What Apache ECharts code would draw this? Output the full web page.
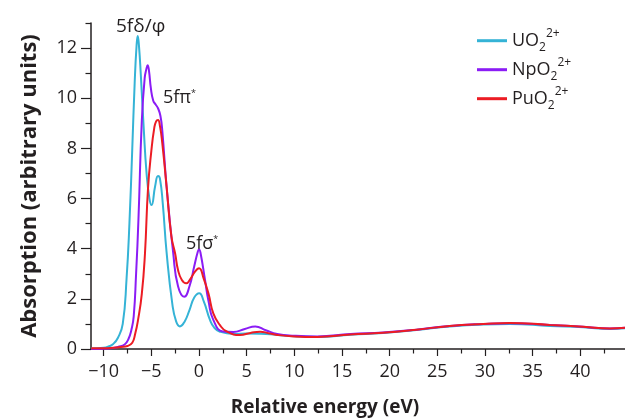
<!DOCTYPE html>
<html>
<head>
<meta charset="utf-8">
<script src="https://cdn.jsdelivr.net/npm/echarts@6/dist/echarts.min.js"></script>
<style>html,body{margin:0;padding:0;background:#fff}#c{width:625px;height:420px}</style>
</head>
<body>
<div id="c"></div>
<script>
// ---- data ----
const seriesNames = ['UO2', 'NpO2', 'PuO2'];
const uX = [-11.3,-10,-9.5,-9,-8.5,-8,-7.6,-7.3,-7,-6.75,-6.55,-6.43,-6.3,-6.1,-5.8,-5.5,-5.2,-4.98,-4.6,-4.3,-4.1,-3.8,-3.4,-2.8,-2.4,-2,-1.5,-1,-0.5,0.02,0.5,1.15,1.6,2.2,3.6,5,6.5,8.2,10,12.4,15.9,19.3,22.8,26.3,29.8,32.6,36.8,40.3,43.1,45];
const uY = [0.02,0.05,0.1,0.2,0.45,1.0,2.8,5.0,8.0,10.6,12.1,12.48,12.1,10.9,8.8,7.0,6.0,5.74,6.5,6.9,6.8,5.8,3.85,1.8,1.1,0.9,1.1,1.55,2.05,2.22,1.9,1.16,0.85,0.69,0.6,0.62,0.61,0.56,0.51,0.48,0.57,0.64,0.76,0.9,0.98,1.0,0.92,0.87,0.8,0.84];
const npX = [-11.3,-10,-9,-8.5,-7.8,-7.4,-7.1,-6.85,-6.6,-6.35,-6,-5.7,-5.5,-5.39,-5.25,-5.05,-4.8,-4.55,-4.3,-4.05,-3.85,-3.4,-2.7,-2.2,-1.55,-1,-0.5,-0.15,0,0.15,0.63,1,1.5,2.5,3.6,4.8,5.9,7,8.2,10,12.4,15.9,19.3,22.8,26.3,29.8,32.6,36.8,40.3,43.1,45];
const npY = [0,0.01,0.04,0.08,0.18,0.4,0.75,1.3,3.0,5.2,9.1,10.8,11.2,11.32,11.1,10.4,9.9,9.75,9.6,9.3,8.7,6.47,3.8,2.5,2.08,2.5,3.3,3.85,3.97,3.85,2.75,1.9,1.16,0.7,0.68,0.8,0.9,0.75,0.6,0.53,0.5,0.6,0.66,0.77,0.92,1.0,1.03,0.96,0.89,0.82,0.86];
const puX = [-11.3,-10,-9,-8.2,-7.5,-7,-6.7,-6.4,-6,-5.67,-5.35,-5,-4.7,-4.5,-4.3,-4.1,-3.85,-3.4,-2.9,-2.5,-2.2,-1.8,-1.35,-0.9,-0.4,0,0.5,1,1.5,2.2,2.9,4.3,5.4,6.4,7.3,8.2,10,12.4,15.9,19.3,22.8,26.3,29.8,32.6,36.8,40.3,43.1,45];
const puY = [0.03,0.03,0.05,0.08,0.12,0.25,0.6,1.15,2.2,3.8,6.4,7.9,8.8,9.08,9.13,8.9,8.2,6.47,4.5,3.8,3.15,2.75,2.62,2.8,3.1,3.22,2.8,2.2,1.42,0.95,0.7,0.56,0.64,0.69,0.63,0.56,0.5,0.48,0.58,0.65,0.77,0.92,1.0,1.04,0.96,0.89,0.82,0.86];
const xTicks = {min: -10, max: 45, step: 5};
const yTicks = {min: 0, max: 12, step: 2};
const annotations = ['5fδ/φ', '5fπ{s|*}', '5fσ{s|*}'];

// ---- layout ----
const W = 625, H = 420;
const xMin = -11.33, xMax = 45, yMax = 13;
const gL = 91, gR = -3, gT = 23, gB = 71;
const pxX = (W - gL - gR) / (xMax - xMin);
const pxY = (H - gT - gB) / yMax;
const leftB = gL + (xTicks.min - xMin) * pxX;
const topC = H - gB - 14 * pxY;
const ink = '#231f20';
const font = 'Open Sans';
const colors = ['#35b3d6', '#8b1cf5', '#ec1c24'];

const zip = (a, b) => a.map((v, i) => [v, b[i]]);
const minus = v => String(v).replace('-', '\u2212');

const chart = echarts.init(document.getElementById('c'), null, {renderer: 'canvas'});
const labelRich = {
  m: {fontSize: 18, lineHeight: 26, fontFamily: font, color: ink},
  sb: {fontSize: 12, lineHeight: 10, verticalAlign: 'bottom', fontFamily: font, color: ink},
  sp: {fontSize: 12, lineHeight: 22, verticalAlign: 'top', fontFamily: font, color: ink}
};
const legendLabel = n => '{m|' + n.slice(0, -1) + '}{sb|2}{sp|2+}';
const supRich = {s: {fontSize: 9, verticalAlign: 'top', lineHeight: 18, fontFamily: font, fill: ink}};

chart.setOption({
  animation: false,
  backgroundColor: '#fff',
  grid: [
    {left: gL, right: gR, top: gT, bottom: gB, containLabel: false, outerBoundsMode: 'none'},
    {left: leftB, right: gR, top: gT, bottom: gB, containLabel: false, outerBoundsMode: 'none'},
    {left: gL, right: gR, top: topC, bottom: gB, containLabel: false, outerBoundsMode: 'none'}
  ],
  xAxis: [
    {gridIndex: 0, type: 'value', min: xMin, max: xMax, axisLine: {onZero: false, lineStyle: {color: ink, width: 1.5}},
     axisTick: {show: false}, axisLabel: {show: false}, splitLine: {show: false}},
    {gridIndex: 1, type: 'value', min: xTicks.min, max: xTicks.max, interval: xTicks.step,
     axisLine: {show: false}, axisTick: {show: true, length: 7, lineStyle: {color: ink, width: 1.2}},
     minorTick: {show: true, splitNumber: 2, length: 4.5, lineStyle: {color: ink, width: 1.2}},
     axisLabel: {show: true, margin: 14, fontSize: 18, fontFamily: font, color: ink, showMaxLabel: false, formatter: minus},
     splitLine: {show: false}},
    {gridIndex: 2, type: 'value', show: false, min: 0, max: 1}
  ],
  yAxis: [
    {gridIndex: 0, type: 'value', min: 0, max: yMax, axisLine: {show: true, onZero: false, lineStyle: {color: ink, width: 1.5}},
     axisTick: {show: false}, axisLabel: {show: false}, splitLine: {show: false}},
    {gridIndex: 1, type: 'value', show: false, min: 0, max: yMax},
    {gridIndex: 2, type: 'value', min: yTicks.min, max: 14, interval: yTicks.step,
     axisLine: {show: false}, axisTick: {show: true, length: 10, lineStyle: {color: ink, width: 1.2}},
     minorTick: {show: true, splitNumber: 2, length: 5.5, lineStyle: {color: ink, width: 1.2}},
     axisLabel: {show: true, margin: 14, fontSize: 18, fontFamily: font, color: ink, showMaxLabel: false},
     splitLine: {show: false}}
  ],
  legend: {
    orient: 'vertical', left: 477, top: 27.7, padding: 0, itemGap: 3,
    itemWidth: 30, itemHeight: 3, icon: 'rect',
    data: seriesNames,
    formatter: legendLabel,
    textStyle: {rich: labelRich}
  },
  series: [
    {name: seriesNames[0], type: 'line', data: zip(uX, uY)},
    {name: seriesNames[1], type: 'line', data: zip(npX, npY)},
    {name: seriesNames[2], type: 'line', data: zip(puX, puY)}
  ].map((s, i) => Object.assign(s, {
    xAxisIndex: 0, yAxisIndex: 0, showSymbol: false, smooth: 0.5,
    color: colors[i], lineStyle: {color: colors[i], width: 2}
  })),
  graphic: [
    {type: 'text', x: 325, y: 408, style: {text: 'Relative energy (eV)', fill: ink, font: 'bold 19px "' + font + '"', textAlign: 'center', textVerticalAlign: 'middle'}},
    {type: 'text', x: 30, y: 186, rotation: Math.PI / 2, style: {text: 'Absorption (arbitrary units)', fill: ink, font: 'bold 22px "' + font + '"', textAlign: 'center', textVerticalAlign: 'middle'}},
    {type: 'text', x: 116, y: 27, style: {text: annotations[0], fill: ink, font: '19px "' + font + '"', textVerticalAlign: 'middle'}},
    {type: 'text', x: 163, y: 98, style: {text: annotations[1], fill: ink, font: '18px "' + font + '"', textVerticalAlign: 'middle', rich: supRich}},
    {type: 'text', x: 186, y: 244, style: {text: annotations[2], fill: ink, font: '18px "' + font + '"', textVerticalAlign: 'middle', rich: supRich}}
  ]
});
</script>
</body>
</html>
